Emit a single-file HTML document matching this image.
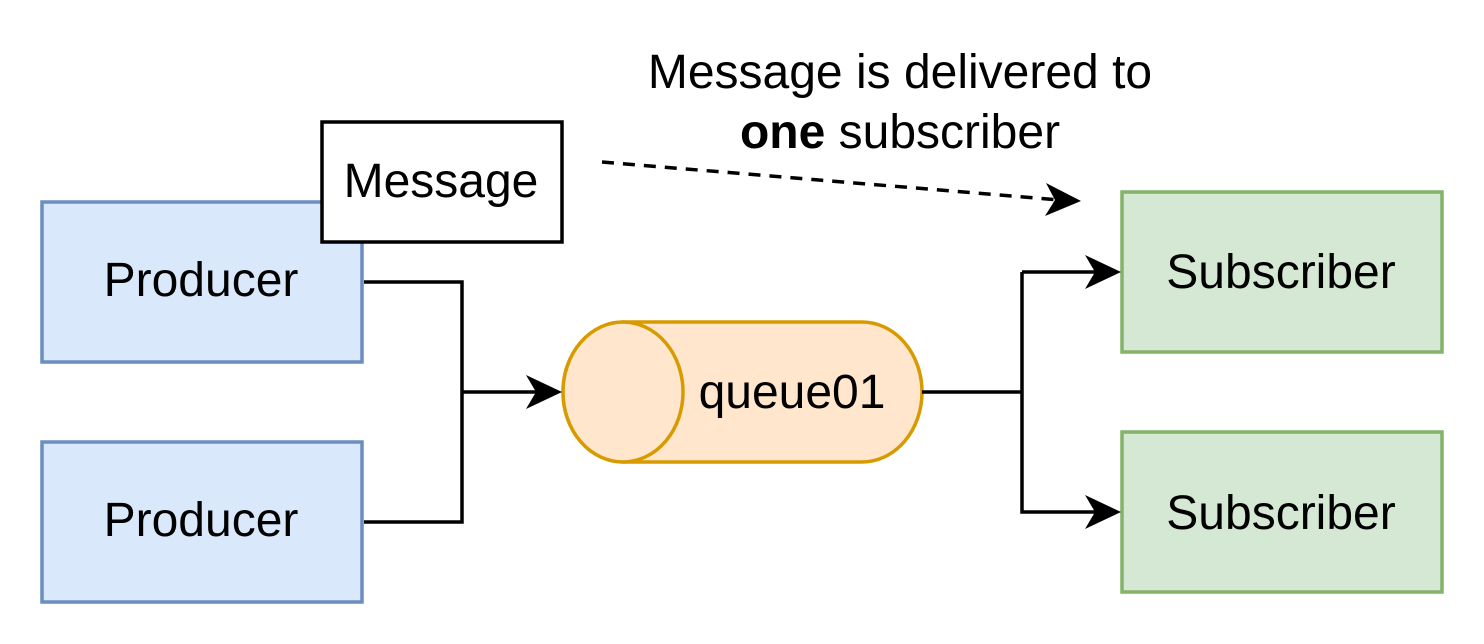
<!DOCTYPE html>
<html><head><meta charset="utf-8"><style>
html,body{margin:0;padding:0;background:#fff;}
svg{display:block;font-family:"Liberation Sans",sans-serif;}
</style></head><body>
<svg width="1484" height="644" viewBox="0 0 1484 644" xmlns="http://www.w3.org/2000/svg">
<rect x="42" y="202" width="320" height="160" fill="#dae8fc" stroke="#6c8ebf" stroke-width="3.5"/>
<text x="201" y="296" font-size="48" text-anchor="middle">Producer</text>
<rect x="42" y="442" width="320" height="160" fill="#dae8fc" stroke="#6c8ebf" stroke-width="3.5"/>
<text x="201" y="536" font-size="48" text-anchor="middle">Producer</text>
<rect x="322" y="122" width="240" height="120" fill="#fff" stroke="#000" stroke-width="3.5"/>
<text x="441" y="197" font-size="48" text-anchor="middle">Message</text>
<rect x="1122" y="192" width="320" height="160" fill="#d5e8d4" stroke="#82b366" stroke-width="3.5"/>
<text x="1281" y="288" font-size="48" text-anchor="middle">Subscriber</text>
<rect x="1122" y="432" width="320" height="160" fill="#d5e8d4" stroke="#82b366" stroke-width="3.5"/>
<text x="1281" y="529" font-size="48" text-anchor="middle">Subscriber</text>
<path d="M623,322 L862,322 A60,70 0 0 1 862,462 L623,462 A60,70 0 0 1 623,322 Z" fill="#ffe6cc" stroke="#d79b00" stroke-width="3.5"/>
<ellipse cx="623" cy="392" rx="60" ry="70" fill="#ffe6cc" stroke="#d79b00" stroke-width="3.5"/>
<text x="792" y="408" font-size="48" text-anchor="middle">queue01</text>
<g fill="none" stroke="#000" stroke-width="3.5">
<path d="M364,282 H462 V522 H364"/>
<path d="M462,392 H540"/>
<path d="M922,392 H1022"/>
<path d="M1022,272 V512 H1100"/>
<path d="M1022,272 H1100"/>
<path d="M602,162 L1060,200" stroke-dasharray="12,9"/>
</g>
<g fill="#000">
<polygon points="562,392 526,375 536,392 526,409"/>
<polygon points="1121,272 1085,255 1095,272 1085,289"/>
<polygon points="1121,512 1085,495 1095,512 1085,529"/>
<polygon points="1081,201 1046,183 1055,200 1045,216"/>
</g>
<text x="900" y="88" font-size="48" text-anchor="middle">Message is delivered to</text>
<text x="900" y="148" font-size="48" text-anchor="middle"><tspan font-weight="bold">one</tspan> subscriber</text>
</svg>
</body></html>
